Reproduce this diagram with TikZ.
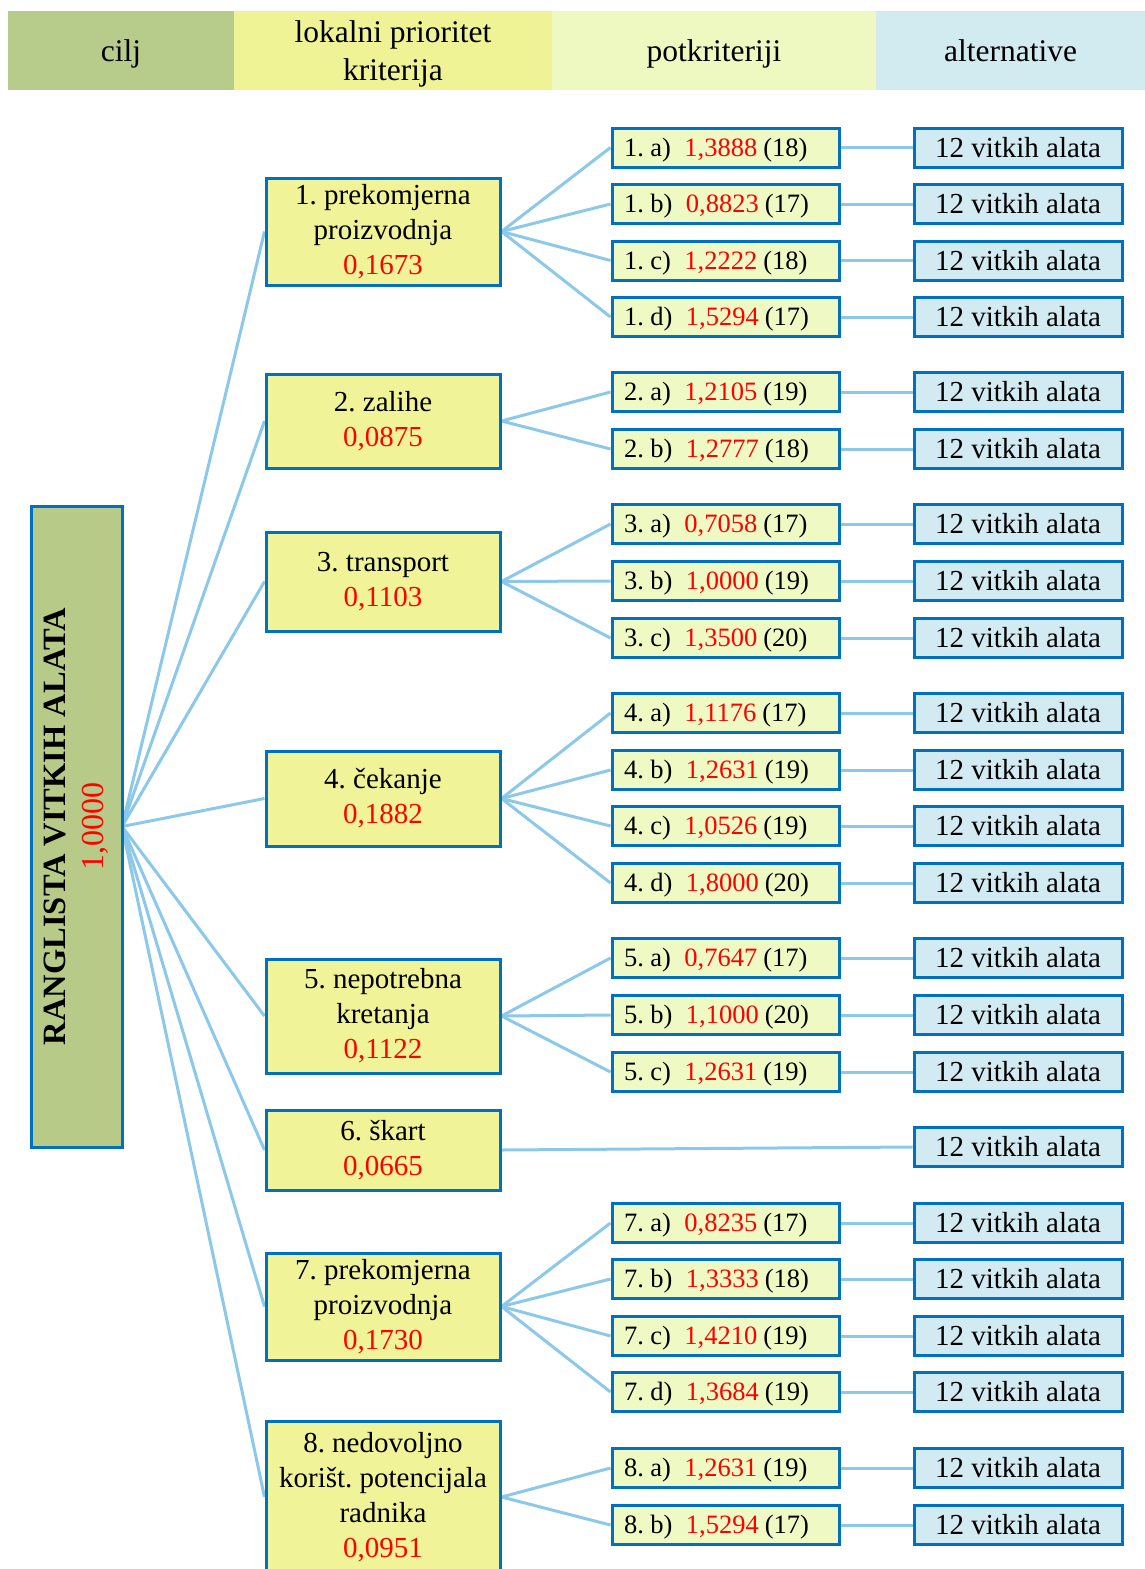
\documentclass[tikz,border=0pt]{standalone}
\usepackage{fontspec}
\setmainfont{Liberation Serif}
\usetikzlibrary{backgrounds}
\definecolor{bord}{HTML}{0070C0}
\definecolor{conn}{HTML}{8CC8EA}
\definecolor{rootfill}{HTML}{B8CA88}
\definecolor{critfill}{HTML}{F0F397}
\definecolor{subfill}{HTML}{EEF9C3}
\definecolor{altfill}{HTML}{D2EAF1}
\definecolor{hcilj}{HTML}{B7CB8A}
\definecolor{hlok}{HTML}{EFF395}
\definecolor{hpot}{HTML}{EDF9C1}
\definecolor{halt}{HTML}{D2EBF1}
\newcommand\redt[1]{\textcolor{red}{#1}}
\newcommand\subalt[5]{%
  \node[subbox] (s#1#2) at (725.5,#3) {\makebox[203pt][l]{#1.\hspace{6.5pt}#2)\hspace{13.5pt}\redt{#4}\hspace{6pt}(#5)}};
  \node[altbox] (a#1#2) at (1018,#3) {12 vitkih alata};
  \begin{pgfonlayer}{background}
  \draw[con] (c#1.east) -- (s#1#2.west);
  \draw[con] (s#1#2.east) -- (a#1#2.west);
  \end{pgfonlayer}}
\begin{document}
\frenchspacing
\begin{tikzpicture}[x=1pt,y=-1pt,
  hdr/.style={draw=none, inner sep=0pt, minimum height=79pt, align=center,
    text height=28pt, text depth=6pt,
    font=\fontsize{31.5}{37.6}\selectfont},
  rootbox/.style={draw=bord, line width=3pt, fill=rootfill, inner sep=0pt,
    minimum width=641pt, minimum height=91pt, align=center, rotate=90,
    font=\fontsize{32.5}{38}\selectfont},
  critbox/.style={draw=bord, line width=3pt, fill=critfill, inner sep=0pt,
    minimum width=234pt, align=center, font=\fontsize{29}{35}\selectfont},
  subbox/.style={draw=bord, line width=3pt, fill=subfill, minimum width=227pt,
    minimum height=39pt, inner xsep=12pt,
    inner ysep=0pt, text height=20.2pt, text depth=2.8pt,
    font=\fontsize{26.5}{30}\selectfont},
  altbox/.style={draw=bord, line width=3pt, fill=altfill, minimum width=208pt,
    minimum height=39pt, inner sep=0pt, text height=21.4pt, text depth=2.4pt,
    font=\fontsize{29}{32}\selectfont},
  con/.style={draw=conn, line width=3pt}]
\useasboundingbox (0,0) rectangle (1145,1569);
\clip (0,0) rectangle (1145,1569);
% header
\node[hdr, fill=hcilj, minimum width=226pt] (h1) at (121,50.5) {cilj};
\node[hdr, fill=hlok, minimum width=318pt, text height=65.6pt] (h2) at (393,50.5) {lokalni prioritet\\kriterija};
\node[hdr, fill=hpot, minimum width=324pt] (h3) at (714,50.5) {potkriteriji};
\node[hdr, fill=halt, minimum width=269pt] (h4) at (1010.5,50.5) {alternative};
% root
\node[rootbox] (root) at (76.5,826.5) {\textbf{RANGLISTA VITKIH ALATA}\\\fontsize{32}{38}\selectfont\redt{1,0000}};
\coordinate (rootE) at (122,826.5);
% criteria
\node[critbox, minimum height=107pt] (c1) at (383,231.5) {1. prekomjerna\\proizvodnja\\\redt{0,1673}};
\node[critbox, minimum height=94pt] (c2) at (383,421) {2. zalihe\\\redt{0,0875}};
\node[critbox, minimum height=99pt] (c3) at (383,581.5) {3. transport\\\redt{0,1103}};
\node[critbox, minimum height=95pt] (c4) at (383,798.5) {4. čekanje\\\redt{0,1882}};
\node[critbox, minimum height=114pt] (c5) at (383,1016) {5. nepotrebna\\kretanja\\\redt{0,1122}};
\node[critbox, minimum height=80pt] (c6) at (383,1150) {6. škart\\\redt{0,0665}};
\node[critbox, minimum height=107pt] (c7) at (383,1306.5) {7. prekomjerna\\proizvodnja\\\redt{0,1730}};
\node[critbox, minimum height=152pt] (c8) at (383,1497) {8. nedovoljno\\korišt. potencijala\\radnika\\\redt{0,0951}};
\begin{pgfonlayer}{background}
\foreach \k in {1,...,8} \draw[con] (rootE) -- (c\k.west);
\end{pgfonlayer}
% subcriteria and alternatives
\subalt{1}{a}{147.5}{1,3888}{18}
\subalt{1}{b}{204}{0,8823}{17}
\subalt{1}{c}{260.5}{1,2222}{18}
\subalt{1}{d}{317}{1,5294}{17}
\subalt{2}{a}{392}{1,2105}{19}
\subalt{2}{b}{449}{1,2777}{18}
\subalt{3}{a}{524}{0,7058}{17}
\subalt{3}{b}{581}{1,0000}{19}
\subalt{3}{c}{638}{1,3500}{20}
\subalt{4}{a}{713}{1,1176}{17}
\subalt{4}{b}{770}{1,2631}{19}
\subalt{4}{c}{826}{1,0526}{19}
\subalt{4}{d}{883}{1,8000}{20}
\subalt{5}{a}{958}{0,7647}{17}
\subalt{5}{b}{1015}{1,1000}{20}
\subalt{5}{c}{1072}{1,2631}{19}
\subalt{7}{a}{1223}{0,8235}{17}
\subalt{7}{b}{1279}{1,3333}{18}
\subalt{7}{c}{1336}{1,4210}{19}
\subalt{7}{d}{1392}{1,3684}{19}
\subalt{8}{a}{1468}{1,2631}{19}
\subalt{8}{b}{1525}{1,5294}{17}
\node[altbox] (a6) at (1018,1147) {12 vitkih alata};
\begin{pgfonlayer}{background}
\draw[con] (c6.east) -- (a6.west);
\end{pgfonlayer}
\end{tikzpicture}
\end{document}
